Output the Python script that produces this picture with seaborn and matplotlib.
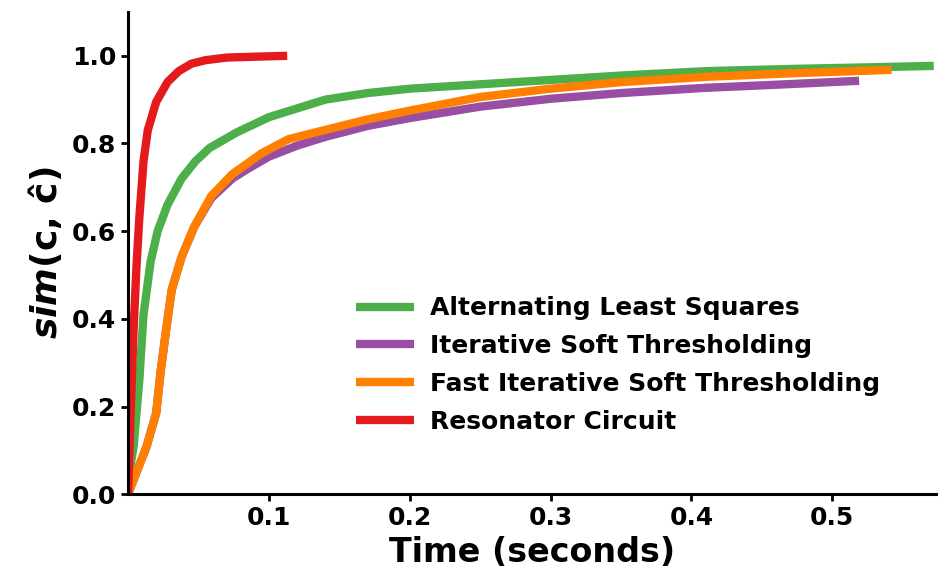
import numpy as np
import pandas as pd
import matplotlib
matplotlib.use("Agg")
import matplotlib.pyplot as plt
import seaborn as sns

# Convergence traces: similarity vs. wall-clock time for each solver
als_t = [0, 0.004, 0.008, 0.011, 0.016, 0.021, 0.028, 0.038, 0.048, 0.058, 0.077,
         0.10, 0.12, 0.14, 0.17, 0.20, 0.25, 0.30, 0.35, 0.41, 0.47, 0.53, 0.572]
als_s = [0.03, 0.11, 0.26, 0.41, 0.53, 0.60, 0.66, 0.72, 0.76, 0.79, 0.825,
         0.86, 0.88, 0.90, 0.915, 0.925, 0.935, 0.945, 0.955, 0.965, 0.970, 0.974, 0.977]

ist_t = [0, 0.006, 0.013, 0.020, 0.023, 0.027, 0.031, 0.038, 0.047, 0.059, 0.074,
         0.086, 0.10, 0.12, 0.14, 0.17, 0.20, 0.25, 0.30, 0.35, 0.41, 0.46, 0.519]
ist_s = [0.0, 0.05, 0.107, 0.185, 0.276, 0.374, 0.466, 0.541, 0.61, 0.675, 0.72,
         0.744, 0.77, 0.795, 0.815, 0.84, 0.858, 0.884, 0.902, 0.915, 0.927, 0.934, 0.943]

fist_t = [0, 0.006, 0.013, 0.020, 0.023, 0.027, 0.031, 0.038, 0.047, 0.059, 0.074,
          0.095, 0.114, 0.14, 0.17, 0.20, 0.25, 0.30, 0.35, 0.41, 0.47, 0.542]
fist_s = [0.0, 0.05, 0.107, 0.185, 0.276, 0.374, 0.466, 0.541, 0.61, 0.68, 0.73,
          0.778, 0.81, 0.831, 0.855, 0.875, 0.906, 0.925, 0.94, 0.952, 0.96, 0.968]

rc_t = [0, 0.002, 0.004, 0.006, 0.008, 0.011, 0.014, 0.02, 0.028, 0.036, 0.045,
        0.055, 0.07, 0.09, 0.113]
rc_s = [0.0, 0.2, 0.38, 0.52, 0.63, 0.76, 0.83, 0.895, 0.94, 0.965, 0.982,
        0.99, 0.996, 0.998, 1.0]

methods = ["Alternating Least Squares", "Iterative Soft Thresholding",
           "Fast Iterative Soft Thresholding", "Resonator Circuit"]
colors = ["#4daf4a", "#984ea3", "#ff7f00", "#e41a1c"]
x_ticks = [0.1, 0.2, 0.3, 0.4, 0.5]
y_ticks = [0.0, 0.2, 0.4, 0.6, 0.8, 1.0]

frames = []
for name, t, s in zip(methods, [als_t, ist_t, fist_t, rc_t], [als_s, ist_s, fist_s, rc_s]):
    frames.append(pd.DataFrame({"time": t, "sim": s, "method": name}))
df = pd.concat(frames, ignore_index=True)

sns.set_style("ticks")
plt.rcParams["font.family"] = ["DejaVu Sans"]
plt.rcParams["font.weight"] = "bold"
plt.rcParams["text.color"] = "black"
plt.rcParams["axes.labelcolor"] = "black"
plt.rcParams["axes.edgecolor"] = "black"
plt.rcParams["xtick.color"] = "black"
plt.rcParams["ytick.color"] = "black"
plt.rcParams["lines.solid_capstyle"] = "butt"
plt.rcParams["mathtext.fontset"] = "custom"
plt.rcParams["mathtext.it"] = "DejaVu Sans:italic:bold"
plt.rcParams["mathtext.rm"] = "DejaVu Sans:bold"

fig = plt.figure(figsize=(9.38, 5.70), dpi=100)
ax = fig.add_axes([0.1365, 0.133, 0.862, 0.846])

sns.lineplot(data=df, x="time", y="sim", hue="method", hue_order=methods,
             palette=dict(zip(methods, colors)), linewidth=6, sort=False,
             estimator=None, ax=ax)

ax.set_xlim(0, 0.574)
ax.set_ylim(0, 1.1)
ax.set_xticks(x_ticks)
ax.set_xticklabels([f"{v:.1f}" for v in x_ticks])
ax.set_yticks(y_ticks)
ax.set_yticklabels([f"{v:.1f}" for v in y_ticks])
ax.tick_params(labelsize=18, width=2, length=5, colors="black")
for lbl in ax.get_xticklabels() + ax.get_yticklabels():
    lbl.set_fontweight("bold")

sns.despine(ax=ax)
for side in ["left", "bottom"]:
    ax.spines[side].set_linewidth(2.2)
    ax.spines[side].set_color("black")

ax.set_xlabel("Time (seconds)", fontsize=24, fontweight="bold", labelpad=4)
ax.set_ylabel("$sim$(c, \u0109)", fontsize=26, fontweight="bold", labelpad=6)

leg = ax.legend(loc="upper left", bbox_to_anchor=(0.282, 0.41), frameon=False,
                borderaxespad=0, borderpad=0, handlelength=2.3, handletextpad=0.65,
                labelspacing=0.55, prop={"size": 18, "weight": "bold"})
for line in leg.get_lines():
    line.set_linewidth(6)
    line.set_solid_capstyle("butt")

fig.savefig("out.png", dpi=100)
